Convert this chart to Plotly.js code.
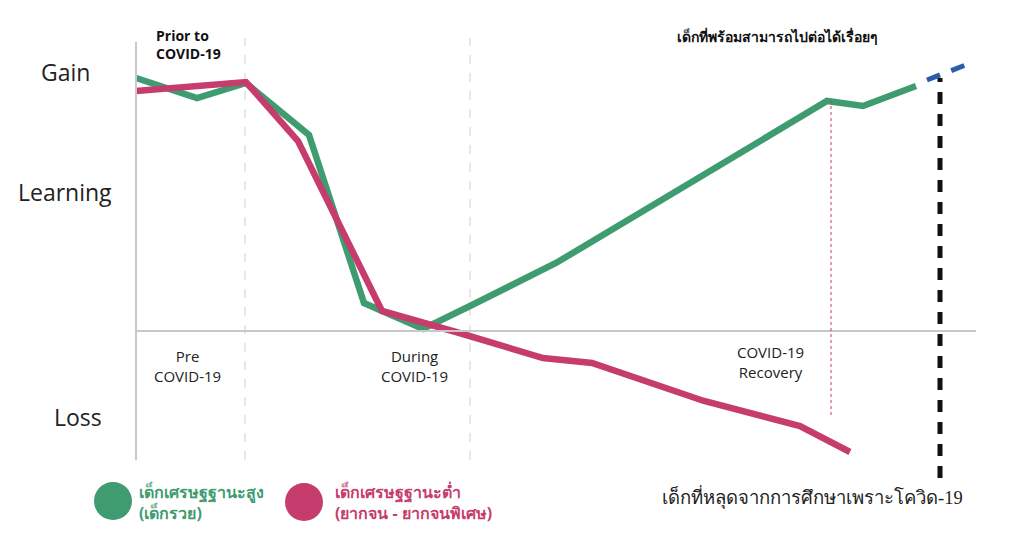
<!DOCTYPE html>
<html>
<head>
<meta charset="utf-8">
<script src="https://cdn.plot.ly/plotly-3.0.1.min.js"></script>
<style>
  html, body { margin: 0; padding: 0; background: #fff; }
  #chart { width: 1024px; height: 537px; }
</style>
</head>
<body>
<div id="chart"></div>
<script>
// time runs left to right, learning is above/below the zero line
const richX = [0, 61, 110, 173, 228, 287, 334, 420, 554, 691, 727, 780];
const richY = [253, 233, 248, 196, 28, 2, 25, 68, 148, 230, 225, 245];

const poorX = [0, 110, 162, 246, 320, 407, 456, 568, 664, 714];
const poorY = [240, 249, 190, 20, -1, -27, -32, -70, -95, -121];

// projected continuation of the rich group
const projX = [791, 832];
const projY = [251, 267];

// phase boundaries and markers
const phaseLines = [109, 334];
const recoveryLine = 695;
const dropoutLine = 804;

const sideLabels = ['Gain', 'Learning', 'Loss'];
const sideLabelX = [-71, -71, -58];
const sideLabelY = [259, 139, -86];
const phaseLabels = ['Pre<br>COVID-19', 'During<br>COVID-19', 'COVID-19<br>Recovery'];
const phaseLabelX = [51, 278, 634];
const phaseLabelY = [-35, -35, -31];

const GREEN = '#3f9b70';
const PINK = '#c63d6d';
const BLUE = '#2b5ea8';

const data = [
    {
        x: richX, y: richY, mode: 'lines',
        line: { color: GREEN, width: 6.5 },
        hoverinfo: 'skip'
    },
    {
        x: poorX, y: poorY, mode: 'lines',
        line: { color: PINK, width: 6.5 },
        hoverinfo: 'skip'
    },
    {
        x: projX, y: projY, mode: 'lines',
        line: { color: BLUE, width: 5, dash: '14px,12px' },
        hoverinfo: 'skip'
    },
    // legend dots
    {
        x: [-23, 168], y: [-170, -171], mode: 'markers',
        marker: { size: 38, color: [GREEN, PINK] },
        hoverinfo: 'skip'
    }
];

const shapes = [
    // axes
    { type: 'line', x0: 0, x1: 0, y0: -129, y1: 289, line: { color: '#c8c8c8', width: 2 } },
    { type: 'line', x0: 0, x1: 840, y0: 0, y1: 0, line: { color: '#c8c8c8', width: 2 } },
    { type: 'line', x0: recoveryLine, x1: recoveryLine, y0: -84, y1: 230, line: { color: PINK, width: 1, dash: 'dot' } },
    { type: 'line', x0: dropoutLine, x1: dropoutLine, y0: -147, y1: 253, line: { color: '#111', width: 5, dash: '12px,10px' } }
];
phaseLines.forEach(px => shapes.push({
    type: 'line', x0: px, x1: px, y0: -129, y1: 293,
    line: { color: '#cfcfcf', width: 1, dash: 'dash' }, layer: 'below'
}));

const annotations = [];
sideLabels.forEach((t, i) => annotations.push({
    x: sideLabelX[i], y: sideLabelY[i], text: t, showarrow: false,
    font: { family: 'Open Sans, sans-serif', size: 23, color: '#222', weight: 500 }
}));
phaseLabels.forEach((t, i) => annotations.push({
    x: phaseLabelX[i], y: phaseLabelY[i], text: t, showarrow: false,
    font: { family: 'Open Sans, sans-serif', size: 15, color: '#222' }
}));
annotations.push(
    { x: 52, y: 287, text: '<b>Prior to<br>COVID-19</b>', showarrow: false, align: 'left',
      font: { family: 'Open Sans, sans-serif', size: 14, color: '#111' } },
    { x: 641, y: 295, text: '<b>เด็กที่พร้อมสามารถไปต่อได้เรื่อยๆ</b>', showarrow: false,
      font: { family: 'Noto Sans, sans-serif', size: 14, color: '#111' } },
    { x: 676, y: -166, text: 'เด็กที่หลุดจากการศึกษาเพราะโควิด-19', showarrow: false,
      font: { family: 'serif', size: 18.5, color: '#222' } },
    { x: 1, y: -171, xanchor: 'left', align: 'left', showarrow: false,
      text: '<b>เด็กเศรษฐฐานะสูง<br>(เด็กรวย)</b>',
      font: { family: 'Noto Sans, sans-serif', size: 16, color: GREEN } },
    { x: 197, y: -171, xanchor: 'left', align: 'left', showarrow: false,
      text: '<b>เด็กเศรษฐฐานะต่ำ<br>(ยากจน - ยากจนพิเศษ)</b>',
      font: { family: 'Noto Sans, sans-serif', size: 16, color: PINK } }
);

const layout = {
    width: 1024, height: 537,
    margin: { l: 0, r: 0, t: 0, b: 0 },
    xaxis: { range: [-136, 888], visible: false, fixedrange: true },
    yaxis: { range: [-206, 331], visible: false, fixedrange: true },
    showlegend: false,
    shapes: shapes,
    annotations: annotations,
    paper_bgcolor: '#fff',
    plot_bgcolor: '#fff'
};

Plotly.newPlot('chart', data, layout, { displayModeBar: false, staticPlot: true });
</script>
</body>
</html>
